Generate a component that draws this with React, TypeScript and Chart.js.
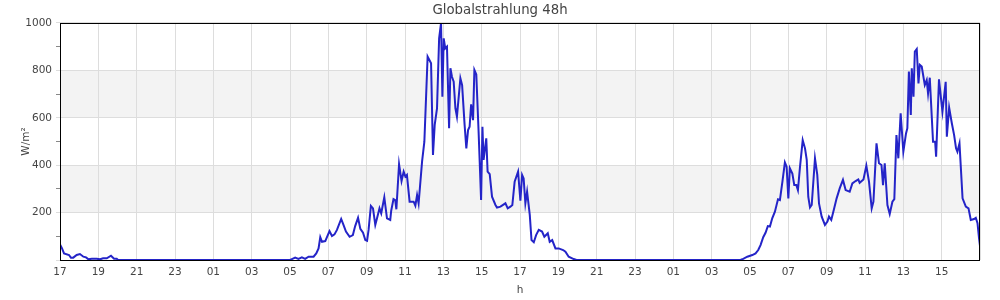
import React, { useEffect, useRef } from "react";
import { Chart, registerables } from "chart.js";

Chart.register(...registerables);

// Hours since 17:00 of the first day (48 h window)
const HOURS: number[] = [
  0.0, 0.1, 0.21, 0.47, 0.57, 0.69, 0.87, 1.04, 1.22, 1.36, 1.48, 1.66, 1.92, 2.09, 2.25, 2.44, 2.66, 2.82, 2.96, 3.03,
  12.0, 12.1, 12.27, 12.44, 12.62, 12.79, 12.97, 13.23, 13.37, 13.49, 13.58, 13.67, 13.84, 14.06, 14.19, 14.32, 14.45,
  14.67, 14.79, 14.92, 15.11, 15.28, 15.4, 15.55, 15.67, 15.81, 15.93, 16.02, 16.1, 16.22, 16.33, 16.45, 16.54, 16.67,
  16.76, 16.92, 17.06, 17.23, 17.28, 17.4, 17.49, 17.55, 17.69, 17.82, 17.93, 18.02, 18.1, 18.24, 18.45, 18.54, 18.63,
  18.71, 18.89, 19.01, 19.18, 19.36, 19.46, 19.55, 19.67, 19.78, 19.88, 19.95, 20.02, 20.1, 20.19, 20.3, 20.37, 20.45,
  20.54, 20.63, 20.71, 20.89, 20.98, 21.11, 21.2, 21.29, 21.37, 21.45, 21.55, 21.62, 21.72, 21.84, 21.97, 22.04, 22.1,
  22.24, 22.31, 22.42, 22.54, 22.72, 22.8, 22.98, 23.24, 23.36, 23.5, 23.6, 23.72, 23.9, 24.02, 24.11, 24.19, 24.28,
  24.37, 24.51, 24.6, 24.72, 24.84, 24.98, 25.15, 25.27, 25.45, 25.55, 25.68, 25.85, 26.02, 26.25, 26.37, 26.54, 26.8,
  26.95,
  35.5, 35.6, 35.86, 36.12, 36.29, 36.43, 36.55, 36.69, 36.81, 36.93, 37.04, 37.16, 37.3, 37.46, 37.56, 37.69, 37.82,
  37.91, 38.0, 38.08, 38.21, 38.31, 38.42, 38.5, 38.61, 38.75, 38.87, 38.96, 39.04, 39.13, 39.22, 39.39, 39.51, 39.6,
  39.74, 39.91, 40.04, 40.12, 40.24, 40.38, 40.52, 40.68, 40.85, 40.99, 41.2, 41.34, 41.51, 41.65, 41.72, 41.92, 42.07,
  42.21, 42.35, 42.44, 42.6, 42.73, 42.86, 42.94, 43.03, 43.17, 43.29, 43.43, 43.53, 43.64, 43.74, 43.86, 44.0, 44.14,
  44.21, 44.29, 44.39, 44.44, 44.53, 44.6, 44.7, 44.79, 44.86, 44.96, 45.12, 45.22, 45.29, 45.38, 45.55, 45.66, 45.71,
  45.86, 46.04, 46.21, 46.27, 46.39, 46.53, 46.65, 46.75, 46.82, 46.93, 47.09, 47.26, 47.4, 47.52, 47.69, 47.78, 47.87,
  47.95, 48.0,
];

// Global radiation in W/m²
const RADIATION: number[] = [
  66, 50, 28, 21, 10, 10, 21, 25, 14, 11, 3, 5, 5, 3, 7, 7, 18, 5, 5, 0,
  0, 4, 10, 5, 11, 5, 14, 14, 28, 49, 96, 77, 80, 122, 101, 108, 127,
  173, 148, 120, 98, 105, 143, 178, 131, 115, 84, 81, 127, 228, 218, 148, 176, 218,
  197, 264, 176, 169, 208, 257, 253, 214, 404, 333, 373, 352, 359, 246, 246, 229, 274,
  239, 415, 499, 858, 830, 443, 570, 640, 935, 999, 689, 935, 893, 900, 556, 809, 773,
  752, 640, 605, 767, 738, 570, 471, 548, 562, 657, 590, 802, 783, 541, 253, 562, 422,
  513, 373, 362, 267, 232, 221, 225, 239, 218, 225, 232, 330, 373, 250, 359, 344, 239,
  288, 190, 84, 75, 105, 127, 120, 98, 113, 77, 84, 49, 49, 42, 35, 14, 4,
  0,
  0, 3, 14, 21, 28, 42, 63, 96, 115, 143, 141, 176, 204, 256, 253, 330, 412,
  394, 260, 387, 365, 316, 316, 295, 394, 506, 471, 422, 267, 222, 232, 429, 359, 239,
  183, 148, 162, 183, 169, 214, 260, 302, 338, 295, 288, 323, 333, 340, 326, 340, 398,
  330, 218, 246, 492, 408, 401, 316, 408, 232, 194, 246, 257, 527, 429, 619, 457, 534,
  556, 795, 612, 809, 689, 879, 890, 745, 823, 816, 738, 759, 703, 769, 499, 499, 436,
  762, 626, 752, 520, 643, 577, 527, 471, 457, 492, 260, 225, 218, 169, 173, 178, 155,
  91, 60,
];

const START_HOUR = 17;
const BANDS: [number, number][] = [
  [200, 400],
  [600, 800],
];
const TITLE = "Globalstrahlung 48h";
const Y_TITLE = "W/m²";
const X_TITLE = "h";

const TEXT = "#444";
const FONT = "'DejaVu Sans', sans-serif";

const bgPlugin = {
  id: "bands",
  beforeDraw(chart: any) {
    const { ctx, chartArea, scales } = chart;
    ctx.save();
    ctx.fillStyle = "#f3f3f3";
    for (const [a, b] of BANDS) {
      const y1 = scales.y.getPixelForValue(b);
      const y2 = scales.y.getPixelForValue(a);
      ctx.fillRect(chartArea.left, y1, chartArea.right - chartArea.left, y2 - y1);
    }
    ctx.restore();
  },
  afterDraw(chart: any) {
    const { ctx, chartArea } = chart;
    ctx.save();
    ctx.strokeStyle = "#000";
    ctx.lineWidth = 1;
    const l = Math.round(chartArea.left) + 0.5;
    const t = Math.round(chartArea.top) + 0.5;
    const r = Math.round(chartArea.right) - 0.5;
    const b = Math.round(chartArea.bottom) + 0.5;
    ctx.strokeRect(l, t, r - l, b - t);
    ctx.restore();
  },
};

export default function App() {
  const ref = useRef<HTMLCanvasElement>(null);
  useEffect(() => {
    if (!ref.current) return;
    const data = HOURS.map((h, i) => ({ x: h, y: RADIATION[i] }));
    const chart = new Chart(ref.current, {
      type: "line",
      data: {
        datasets: [
          {
            data,
            borderColor: "#2424c8",
            borderWidth: 2,
            pointRadius: 0,
            tension: 0,
            fill: false,
          },
        ],
      },
      plugins: [bgPlugin],
      options: {
        responsive: false,
        animation: false,
        layout: { padding: { left: 20, right: 20, top: 0, bottom: 0 } },
        plugins: {
          legend: { display: false },
          tooltip: { enabled: false },
          title: {
            display: true,
            text: TITLE,
            color: TEXT,
            font: { family: FONT, size: 13.3, weight: "normal" },
            padding: { top: 3, bottom: 4 },
          },
        },
        scales: {
          x: {
            type: "linear",
            min: 0,
            max: 48,
            afterFit(scale: any) {
              scale.height = 40;
            },
            border: { display: false },
            grid: { color: "#dddddd", drawTicks: false },
            ticks: {
              stepSize: 2,
              autoSkip: false,
              maxRotation: 0,
              padding: 6,
              color: TEXT,
              font: { family: FONT, size: 10.5 },
              callback: (v: any) => {
                if (v >= 48) return "";
                const h = (START_HOUR + Number(v)) % 24;
                return String(h).padStart(2, "0");
              },
            },
            title: {
              display: true,
              text: X_TITLE,
              color: TEXT,
              font: { family: FONT, size: 10.5 },
              padding: { top: 0, bottom: 3 },
            },
          },
          y: {
            min: 0,
            max: 1000,
            afterFit(scale: any) {
              scale.width = 40;
            },
            border: { display: false },
            grid: {
              color: (c: any) => (c.tick && c.tick.value % 200 === 0 ? "#dddddd" : "rgba(0,0,0,0)"),
              tickColor: (c: any) => (c.tick && c.tick.value % 200 === 0 ? "#dddddd" : "#888888"),
              tickLength: 4,
            },
            ticks: {
              stepSize: 100,
              autoSkip: false,
              padding: 4,
              color: TEXT,
              font: { family: FONT, size: 10.5 },
              callback: (v: any) => (Number(v) % 200 === 0 && Number(v) !== 0 ? String(v) : ""),
            },
            title: {
              display: true,
              text: Y_TITLE,
              color: TEXT,
              font: { family: FONT, size: 10.5 },
              padding: { top: 0, bottom: 0 },
            },
          },
        },
      },
    });
    return () => chart.destroy();
  }, []);
  return (
    <div style={{ position: "fixed", left: 0, top: 0, width: 1000, height: 300, background: "#fff" }}>
      <canvas ref={ref} width={1000} height={300} style={{ display: "block" }} />
    </div>
  );
}
